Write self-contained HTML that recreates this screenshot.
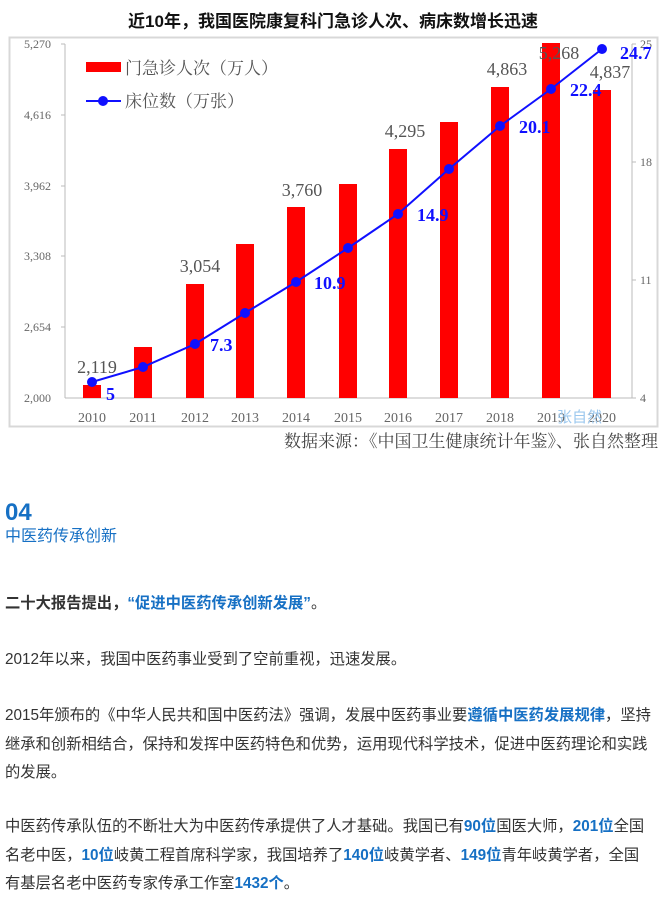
<!DOCTYPE html>
<html><head><meta charset="utf-8"><style>
body{margin:0;width:667px;height:915px;background:#fff;position:relative;overflow:hidden;font-family:"Liberation Sans","Noto Sans CJK SC",sans-serif}
.t{position:absolute;left:5px;font-size:15.3px;color:#333;white-space:nowrap;line-height:20px}
.b{color:#1670c4;font-weight:bold}
</style></head><body>
<svg width="667" height="460" style="position:absolute;left:0;top:0" font-family="'Liberation Serif','Noto Serif CJK SC',serif">
<text x="333" y="27" text-anchor="middle" font-family="'Liberation Sans','Noto Sans CJK SC',sans-serif" font-weight="bold" font-size="17" fill="#111">近10年，我国医院康复科门急诊人次、病床数增长迅速</text>
<rect x="9.5" y="37.5" width="648" height="389" fill="none" stroke="#d8d8d8" stroke-width="2"/>
<line x1="65" y1="44" x2="65" y2="398" stroke="#bbb"/>
<line x1="65" y1="398" x2="632" y2="398" stroke="#bbb"/>
<line x1="632" y1="44" x2="632" y2="398" stroke="#bbb"/>
<g stroke="#bbb"><line x1="61" y1="44" x2="65" y2="44"/><line x1="61" y1="115" x2="65" y2="115"/><line x1="61" y1="186" x2="65" y2="186"/><line x1="61" y1="256" x2="65" y2="256"/><line x1="61" y1="327" x2="65" y2="327"/><line x1="632" y1="44" x2="636" y2="44"/><line x1="632" y1="162" x2="636" y2="162"/><line x1="632" y1="280" x2="636" y2="280"/><line x1="632" y1="398" x2="636" y2="398"/></g>
<g font-size="12" fill="#666" text-anchor="end"><text x="51" y="48">5,270</text><text x="51" y="119">4,616</text><text x="51" y="190">3,962</text><text x="51" y="260">3,308</text><text x="51" y="331">2,654</text><text x="51" y="402">2,000</text></g>
<g font-size="12" fill="#666"><text x="640" y="48">25</text><text x="640" y="166">18</text><text x="640" y="284">11</text><text x="640" y="402">4</text></g>
<g fill="#ff0000"><rect x="83" y="385" width="18" height="13"/><rect x="134" y="347" width="18" height="51"/><rect x="186" y="284" width="18" height="114"/><rect x="236" y="244" width="18" height="154"/><rect x="287" y="207" width="18" height="191"/><rect x="339" y="184" width="18" height="214"/><rect x="389" y="149" width="18" height="249"/><rect x="440" y="122" width="18" height="276"/><rect x="491" y="87" width="18" height="311"/><rect x="542" y="43" width="18" height="355"/><rect x="593" y="90" width="18" height="308"/></g>
<polyline fill="none" stroke="#1010ff" stroke-width="2" points="92,382 143,367 195,344 245,313 296,282 348,248 398,214 449,169 500,126 551,89 602,49"/>
<g fill="#1010ff"><circle cx="92" cy="382" r="5"/><circle cx="143" cy="367" r="5"/><circle cx="195" cy="344" r="5"/><circle cx="245" cy="313" r="5"/><circle cx="296" cy="282" r="5"/><circle cx="348" cy="248" r="5"/><circle cx="398" cy="214" r="5"/><circle cx="449" cy="169" r="5"/><circle cx="500" cy="126" r="5"/><circle cx="551" cy="89" r="5"/><circle cx="602" cy="49" r="5"/></g>
<g font-size="18" fill="#555" text-anchor="middle"><text x="97" y="373">2,119</text><text x="200" y="272">3,054</text><text x="302" y="196">3,760</text><text x="405" y="137">4,295</text><text x="507" y="75">4,863</text><text x="559" y="59">5,268</text><text x="610" y="78">4,837</text></g>
<g font-size="18" fill="#1010ff" font-weight="bold"><text x="106" y="400">5</text><text x="210" y="351">7.3</text><text x="314" y="289">10.9</text><text x="417" y="221">14.9</text><text x="519" y="133">20.1</text><text x="570" y="96">22.4</text><text x="620" y="59">24.7</text></g>
<g font-size="14" fill="#666" text-anchor="middle"><text x="92" y="422">2010</text><text x="143" y="422">2011</text><text x="195" y="422">2012</text><text x="245" y="422">2013</text><text x="296" y="422">2014</text><text x="348" y="422">2015</text><text x="398" y="422">2016</text><text x="449" y="422">2017</text><text x="500" y="422">2018</text><text x="551" y="422">2019</text><text x="602" y="422">2020</text></g>
<text x="557" y="422" font-size="15" fill="#9cc8ee" font-family="'Liberation Sans','Noto Sans CJK SC',sans-serif">张自然</text>
<rect x="86" y="62" width="35" height="10" fill="#ff0000"/>
<text x="125" y="74" font-size="17" fill="#555">门急诊人次（万人）</text>
<line x1="86" y1="101" x2="121" y2="101" stroke="#1010ff" stroke-width="2"/><circle cx="103" cy="101" r="5" fill="#1010ff"/>
<text x="125" y="107" font-size="17" fill="#555">床位数（万张）</text>
<text x="658" y="447" text-anchor="end" font-size="17" fill="#444">数据来源：《中国卫生健康统计年鉴》、张自然整理</text>
</svg>
<div class="t" style="top:499px;font-size:24px;line-height:28px;font-weight:bold;color:#1670c4">04</div>
<div class="t" style="top:527px;color:#1670c4;font-size:16px">中医药传承创新</div>
<div class="t" style="top:594px"><b>二十大报告提出，</b><span class="b">“促进中医药传承创新发展”</span>。</div>
<div class="t" style="top:650px">2012年以来，我国中医药事业受到了空前重视，迅速发展。</div>
<div class="t" style="top:706px">2015年颁布的《中华人民共和国中医药法》强调，发展中医药事业要<span class="b">遵循中医药发展规律</span>，坚持</div>
<div class="t" style="top:735px">继承和创新相结合，保持和发挥中医药特色和优势，运用现代科学技术，促进中医药理论和实践</div>
<div class="t" style="top:763px">的发展。</div>
<div class="t" style="top:817px">中医药传承队伍的不断壮大为中医药传承提供了人才基础。我国已有<span class="b">90位</span>国医大师，<span class="b">201位</span>全国</div>
<div class="t" style="top:846px">名老中医，<span class="b">10位</span>岐黄工程首席科学家，我国培养了<span class="b">140位</span>岐黄学者、<span class="b">149位</span>青年岐黄学者，全国</div>
<div class="t" style="top:874px">有基层名老中医药专家传承工作室<span class="b">1432个</span>。</div>
</body></html>
